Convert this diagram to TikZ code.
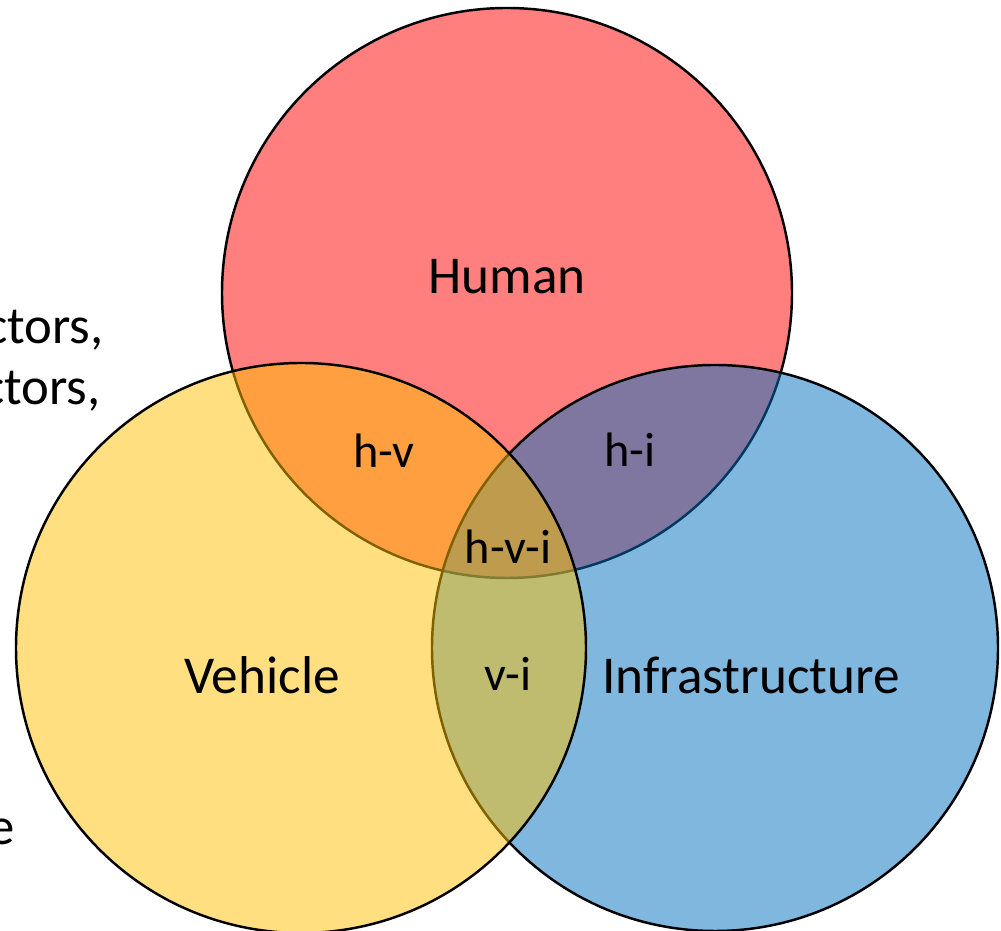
\documentclass[tikz,border=0pt]{standalone}
\usepackage{fontspec}
\setmainfont{Carlito}
\definecolor{vennred}{RGB}{255,0,0}
\definecolor{vennyellow}{RGB}{255,192,0}
\definecolor{vennblue}{RGB}{0,112,192}
\usetikzlibrary{positioning}

\tikzset{
  venn/.style={draw=black, line width=1.4pt, fill opacity=0.5},
  setlabel/.style={anchor=base, inner sep=0pt, font=\fontsize{30.3}{36}\selectfont},
  cutlabel/.style={setlabel, font=\fontsize{27.5}{33}\selectfont},
  sidetext/.style={anchor=base east, inner sep=0pt, font=\fontsize{30}{36}\selectfont}
}

\begin{document}
\begin{tikzpicture}
  \useasboundingbox (0,0) rectangle (20.02,18.62);
  \clip (0,0) rectangle (20.02,18.62);

  %% Text running off the left edge
  \node[sidetext] (side1) at (2.08,11.74) {ctors,};
  \node[sidetext] (side2) at (2.02,10.52) {ctors,};
  \node[sidetext] (side3) at (0.30,1.72) {e};

  %% The three sets
  \draw[venn, fill=vennred]    (10.14,12.76) circle (5.70cm);
  \draw[venn, fill=vennblue]   (14.30,5.66) circle (5.66cm);
  \draw[venn, fill=vennyellow] (6.02,5.66) circle (5.70cm);

  %% Set names
  \node[setlabel] (human)   at (10.14,12.74) {Human};
  \node[setlabel] (vehicle) at (5.24,4.74)   {Vehicle};
  \node[setlabel] (infra)   at (15.02,4.74)  {Infrastructure};

  %% Overlaps
  \node[cutlabel] (hv)  at (7.68,9.26)  {h-v};
  \node[cutlabel] (hi)  at (12.60,9.28) {h-i};
  \node[cutlabel] (hvi) at (10.16,7.34) {h-v-i};
  \node[cutlabel] (vi)  at (10.16,4.80) {v-i};
\end{tikzpicture}
\end{document}
